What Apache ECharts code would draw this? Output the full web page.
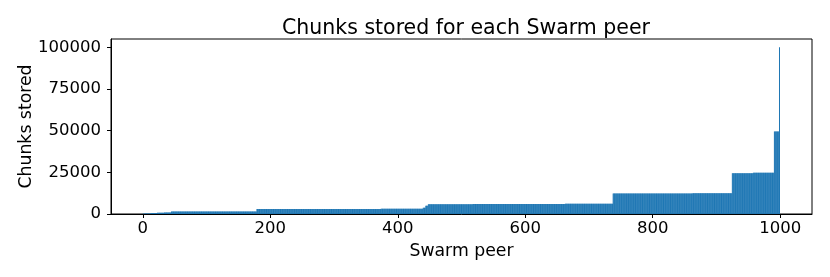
<!DOCTYPE html>
<html>
<head>
<meta charset="utf-8">
<script src="https://cdn.jsdelivr.net/npm/echarts@6/dist/echarts.min.js"></script>
<style>html,body{margin:0;padding:0;background:#fff}#c{width:830px;height:277px}</style>
</head>
<body>
<div id="c"></div>
<script>
// Run-length encoded values: runCounts[i] peers with value runValues[i]
const runCounts = [3, 10, 10, 11, 11, 45, 45, 44, 65, 65, 65, 66, 4, 4, 70, 70, 75, 75, 60, 65, 62, 33, 33, 8, 1];
const runValues = [150, 350, 550, 700, 850, 1450, 1500, 1560, 2950, 3000, 3050, 3100, 3800, 5000, 5850, 5950, 6050, 6200, 12250, 12350, 12450, 24500, 24700, 49500, 100000];
const xTicks = [0, 200, 400, 600, 800, 1000];
const yTicks = [0, 25000, 50000, 75000, 100000];

const data = [];
let peer = 0;
for (let i = 0; i < runCounts.length; i++) {
  for (let k = 0; k < runCounts[i]; k++) { data.push([peer, runValues[i]]); peer++; }
}

const font = 'DejaVu Sans';
const fmt = v => String(v);
const chart = echarts.init(document.getElementById('c'), null, {renderer: 'canvas'});
chart.setOption({
  animation: false,
  backgroundColor: '#fff',
  title: {
    text: 'Chunks stored for each Swarm peer',
    left: 461, top: 13, textAlign: 'center',
    textStyle: {fontFamily: font, fontSize: 20.5, fontWeight: 'normal', color: '#000'}
  },
  grid: {left: 111, right: 18, top: 39, bottom: 63, show: true, borderColor: '#000', borderWidth: 1, backgroundColor: 'transparent'},
  xAxis: {
    type: 'value', min: -50, max: 1050,
    name: 'Swarm peer', nameLocation: 'middle', nameGap: 29, nameMoveOverlap: false,
    nameTextStyle: {fontFamily: font, fontSize: 17.3, color: '#000'},
    axisLine: {show: true, onZero: false, lineStyle: {color: '#000', width: 1}},
    axisTick: {show: true, inside: false, length: 4, lineStyle: {color: '#000'}, customValues: xTicks},
    axisLabel: {fontFamily: font, fontSize: 16.5, color: '#000', margin: 6, customValues: xTicks, formatter: fmt},
    splitLine: {show: false}
  },
  yAxis: {
    type: 'value', min: 0, max: 105000,
    name: 'Chunks stored', nameLocation: 'middle', nameGap: 76, nameRotate: 90, nameMoveOverlap: false,
    nameTextStyle: {fontFamily: font, fontSize: 17.3, color: '#000'},
    axisLine: {show: true, onZero: false, lineStyle: {color: '#000', width: 1}},
    axisTick: {show: true, inside: false, length: 4, lineStyle: {color: '#000'}, customValues: yTicks},
    axisLabel: {fontFamily: font, fontSize: 16.5, color: '#000', margin: 10, customValues: yTicks, formatter: fmt},
    splitLine: {show: false}
  },
  series: [{
    type: 'bar',
    data: data,
    barWidth: 0.6,
    itemStyle: {color: '#1f77b4'}
  }]
});
</script>
</body>
</html>
